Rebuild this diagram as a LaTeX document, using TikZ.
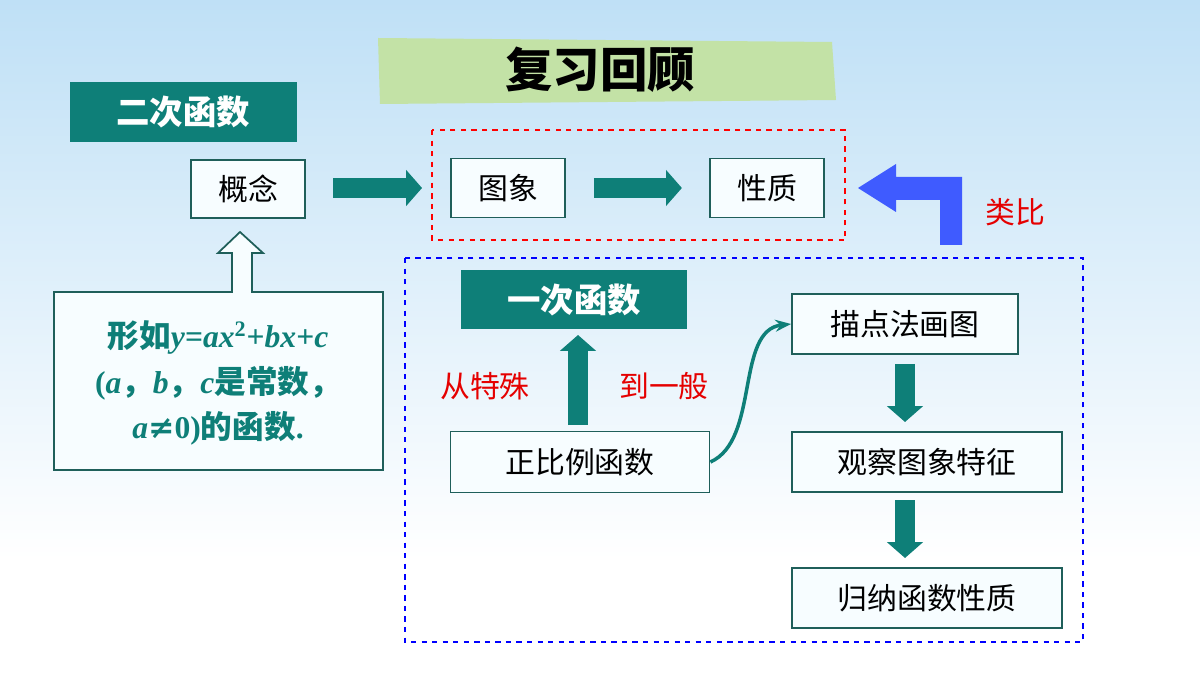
\documentclass[tikz,border=0pt]{standalone}
\usepackage{fontspec}
\setmainfont{Liberation Serif}
\newfontfamily\cjk{Noto Sans CJK SC}
\usetikzlibrary{arrows.meta}
\definecolor{teal1}{HTML}{0E7F78}
\definecolor{bord}{HTML}{1F5F5A}
\definecolor{blu}{HTML}{3F5BFF}
\definecolor{sky}{HTML}{BFE0F6}
\begin{document}
\begin{tikzpicture}[x=0.02cm,y=-0.02cm,
  tbox/.style={draw=bord,line width=1pt,fill=white!85!cyan!20,font=\cjk\fontsize{17}{17}\selectfont,inner sep=0pt},
  hbox/.style={fill=teal1,text=white,font=\cjk\bfseries\fontsize{19}{19}\selectfont,inner sep=0pt},
  fat/.style={-{Triangle[length=9pt,width=20pt]},line width=11pt,teal1},
  redt/.style={text=red!90!black,font=\cjk\fontsize{17}{17}\selectfont}]
\useasboundingbox (0,0) rectangle (1200,675);
\shade[top color=sky,bottom color=white] (0,0) rectangle (1200,560);
\fill[white] (0,560) rectangle (1200,675);
% title
\fill[green!35!olive!35!white] (378,38) -- (832,42) -- (836,100) -- (380,104) -- cycle;
\node[font=\cjk\bfseries\fontsize{27}{27}\selectfont] (title) at (600,70) {复习回顾};
% headers
\node[hbox,minimum width=227*0.02cm,minimum height=60*0.02cm] (erci) at (183,112) {二次函数};
\node[hbox,minimum width=226*0.02cm,minimum height=59*0.02cm] (yici) at (574,300) {一次函数};
% boxes
\node[tbox,minimum width=114*0.02cm,minimum height=58*0.02cm] (gn) at (248,189) {概念};
\node[tbox,minimum width=114*0.02cm,minimum height=59*0.02cm] (tx) at (508,188) {图象};
\node[tbox,minimum width=114*0.02cm,minimum height=59*0.02cm] (xz) at (767,188) {性质};
\node[tbox,minimum width=259*0.02cm,minimum height=61*0.02cm] (zb) at (580,462) {正比例函数};
\node[tbox,minimum width=226*0.02cm,minimum height=60*0.02cm] (md) at (905,324) {描点法画图};
\node[tbox,minimum width=270*0.02cm,minimum height=60*0.02cm] (gc) at (927,462) {观察图象特征};
\node[tbox,minimum width=270*0.02cm,minimum height=60*0.02cm] (gn2) at (927,598) {归纳函数性质};
% dashed frames
\draw[red,dashed,thick] (432,130) rectangle (845,240);
\draw[blue,dashed,thick] (405,258) rectangle (1083,642);
% arrows
\coordinate (a1) at (333,188); \coordinate (a2) at (422,188);
\draw[fat] (a1) -- (a2);
\draw[fat] (tx.east) ++(28,0) coordinate (b1) -- ++(88,0);
\coordinate (u1) at (578,425); \coordinate (u2) at (578,335);
\draw[fat] (u1) -- (u2);
\coordinate (d1) at (905,364); \coordinate (d2) at (905,422);
\draw[fat] (d1) -- (d2);
\coordinate (e1) at (905,500); \coordinate (e2) at (905,558);
\draw[fat] (e1) -- (e2);
\draw[teal1,line width=2pt,-{Stealth[length=9pt]}] (zb.east) .. controls (760,440) and (735,330) .. (md.west);
% blue bent arrow
\fill[blu] (962,245) -- (962,177) -- (896,177) -- (896,164) -- (858,188) -- (896,212) -- (896,200) -- (940,200) -- (940,245) -- cycle;
\node[redt] (lb) at (1015,212) {类比};
\node[redt] (l1) at (485,386) {从特殊};
\node[redt] (l2) at (664,386) {到一般};
% callout
\draw[bord,line width=1pt,fill=white!85!cyan!20] (54,292) -- (232,292) -- (232,253) -- (218,253) -- (240,232) -- (263,253) -- (252,253) -- (252,292) -- (383,292) -- (383,470) -- (54,470) -- cycle;
\node[text=teal1,font=\bfseries\fontsize{18}{26}\selectfont,align=center] (ct) at (218,383)
 {{\cjk 形如}\textit{y}=\textit{ax}\textsuperscript{2}+\textit{bx}+\textit{c}\\
  (\textit{a}{\cjk ，}\textit{b}{\cjk ，}\textit{c}{\cjk 是常数，}\\
  \textit{a}{\fontspec{DejaVu Serif}≠}0){\cjk 的函数}.};
\end{tikzpicture}
\end{document}
